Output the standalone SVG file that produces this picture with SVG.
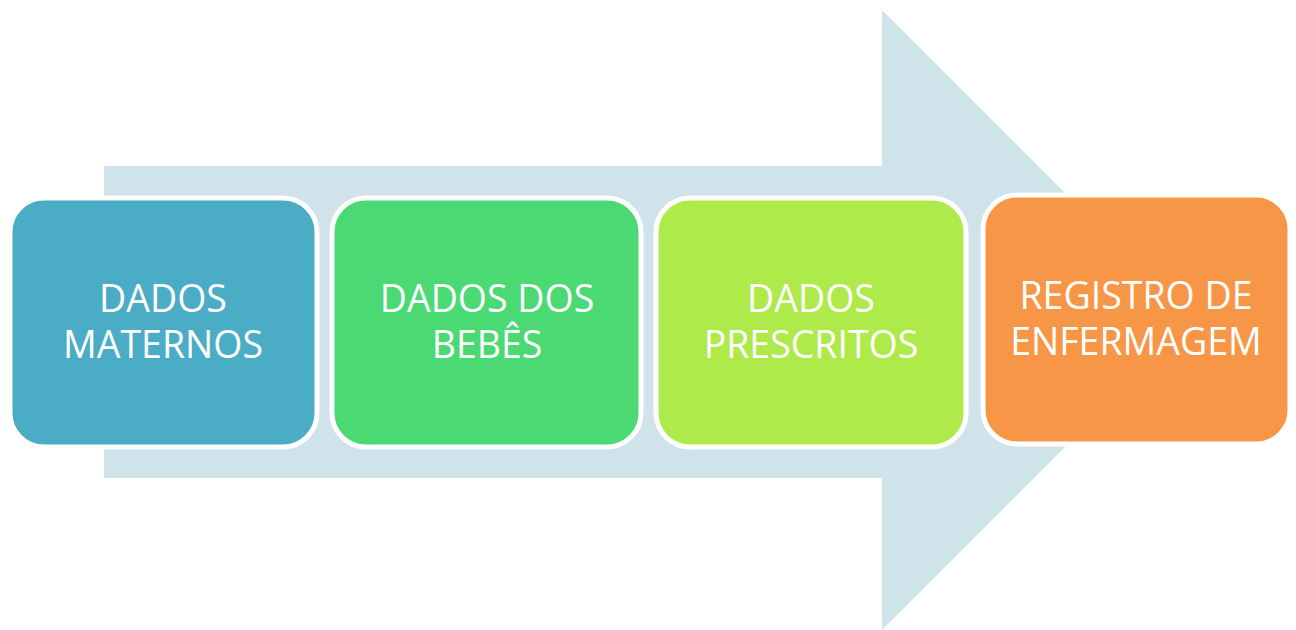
<svg xmlns="http://www.w3.org/2000/svg" width="1296" height="630" viewBox="0 0 1296 630">
<style>
.box{stroke:#fff;stroke-width:5}
.t{font-family:"Open Sans","Liberation Sans",sans-serif;font-size:37.5px;fill:#fff;text-anchor:middle}
</style>
<rect width="1296" height="630" fill="#fff"/>
<g id="arrow">
<polygon points="104,166 882,166 882,10 1192,320 882,630 882,478 104,478" fill="#D0E2EA"/>
</g>
<g id="connectors"></g>
<g id="n1">
<rect class="box" x="10" y="198" width="307" height="249" rx="34" fill="#4BACC6"/>
<text class="t" x="163" y="312">DADOS</text>
<text class="t" x="163" y="358">MATERNOS</text>
</g>
<g id="n2">
<rect class="box" x="332" y="198" width="309" height="249" rx="34" fill="#4AD973"/>
<text class="t" x="487" y="312">DADOS DOS</text>
<text class="t" x="487" y="358">BEBÊS</text>
</g>
<g id="n3">
<rect class="box" x="656" y="198" width="310" height="249" rx="34" fill="#AEEB4A"/>
<text class="t" x="811" y="312">DADOS</text>
<text class="t" x="811" y="358">PRESCRITOS</text>
</g>
<g id="n4">
<rect class="box" x="983" y="195" width="307" height="249" rx="34" fill="#F79646"/>
<text class="t" x="1136" y="309">REGISTRO DE</text>
<text class="t" x="1136" y="355">ENFERMAGEM</text>
</g>
</svg>
